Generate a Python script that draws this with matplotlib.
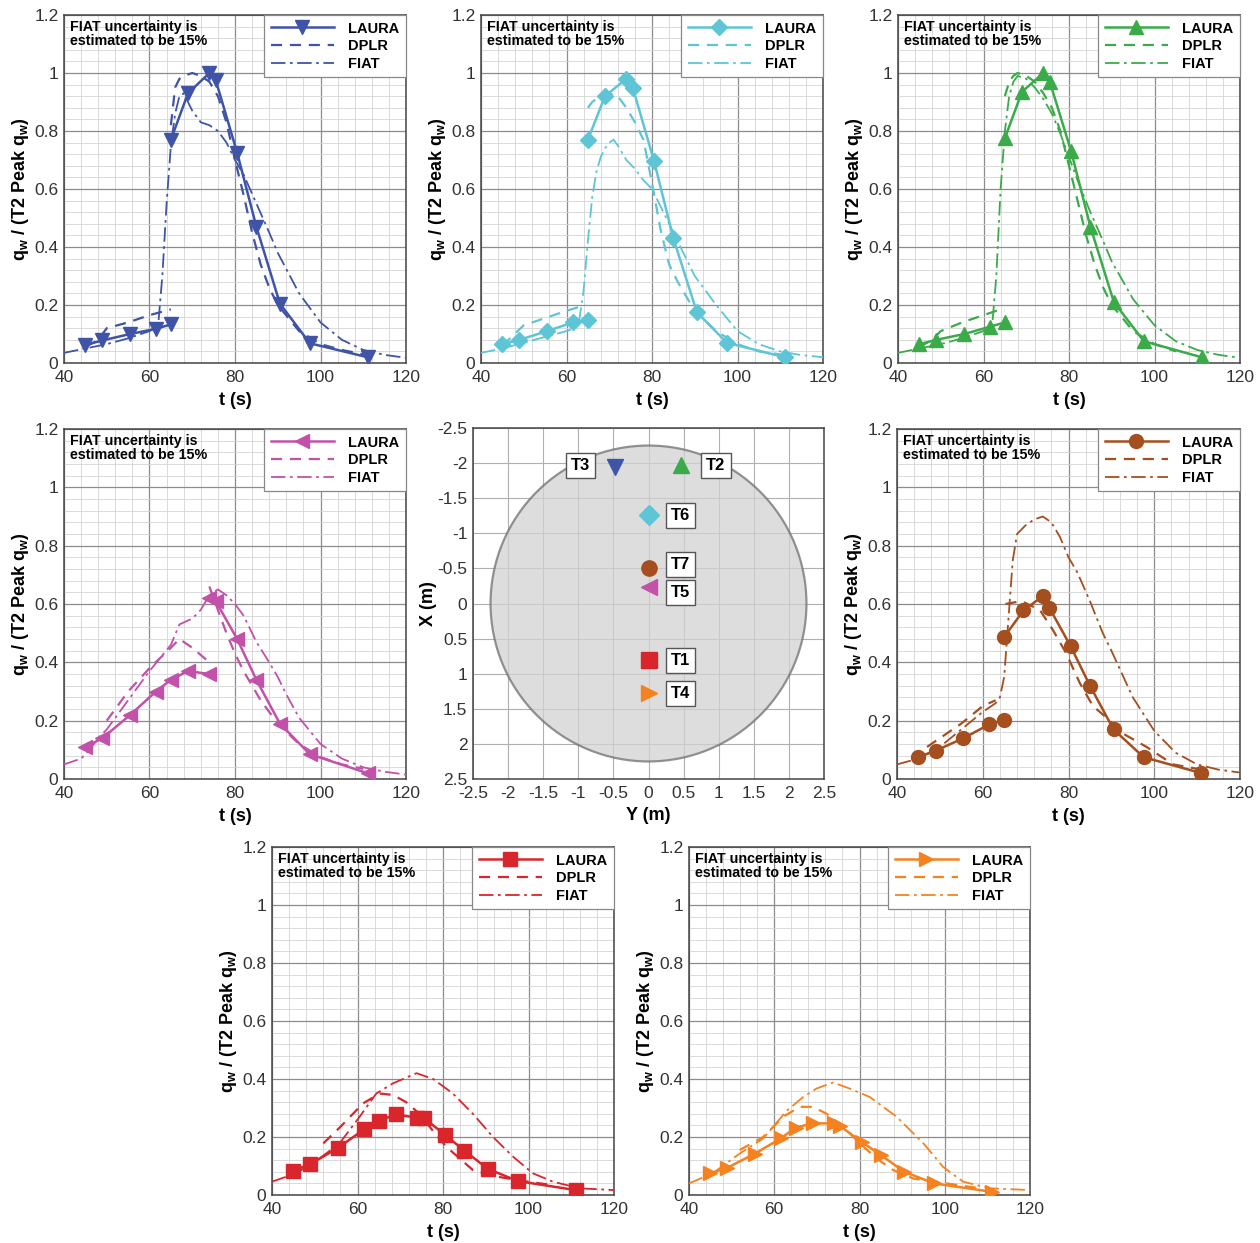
import numpy as np
import matplotlib
matplotlib.use("Agg")
import matplotlib.pyplot as plt
from matplotlib.ticker import MultipleLocator, FormatStrFormatter
from matplotlib.patches import Circle

plt.rcParams['font.family'] = ['Liberation Sans', 'DejaVu Sans']
plt.rcParams['mathtext.fontset'] = 'custom'
plt.rcParams['mathtext.bf'] = 'Liberation Sans:bold'
plt.rcParams['mathtext.rm'] = 'Liberation Sans:bold'
plt.rcParams['mathtext.it'] = 'Liberation Sans:bold'
plt.rcParams['mathtext.default'] = 'bf'

nan = np.nan

# ---- T3 (blue) ----
t3_laura_t = [45, 49, 55.5, 61.5, 65, nan, 65, 69, 74, 75.5, 80.5, 85, 90.5, 97.5, 111]
t3_laura_q = [0.062, 0.078, 0.10, 0.118, 0.133, nan, 0.77, 0.93, 1.0, 0.975, 0.725, 0.47, 0.205, 0.068, 0.02]
t3_dplr_t = [45, 48, 50, 55, 60, 65, nan, 65, 66, 67, 68, 70, 72, 74, 76, 78, 80, 82, 84, 86, 88, 90, 95, 100, 105, 110]
t3_dplr_q = [0.055, 0.08, 0.12, 0.14, 0.165, 0.185, nan, 0.82, 0.95, 0.98, 0.99, 1.0, 0.99, 0.97, 0.92, 0.83, 0.70, 0.58, 0.45,
             0.34, 0.26, 0.20, 0.11, 0.065, 0.045, 0.03]
t3_fiat_t = [40, 45, 50, 55, 60, 62, 63, 64, 65, 66, 67, 68, 70, 72, 74, 76, 78, 80, 82, 85, 88, 90, 95, 100, 105, 110, 115, 120]
t3_fiat_q = [0.035, 0.05, 0.065, 0.085, 0.11, 0.125, 0.3, 0.55, 0.75, 0.86, 0.92, 0.93, 0.87, 0.83, 0.82, 0.80, 0.76, 0.70,
             0.65, 0.55, 0.45, 0.38, 0.24, 0.14, 0.08, 0.045, 0.028, 0.018]

# ---- T6 (cyan) ----
t6_laura_t = [45, 49, 55.5, 61.5, 65, nan, 65, 69, 74, 75.5, 80.5, 85, 90.5, 97.5, 111]
t6_laura_q = [0.065, 0.08, 0.11, 0.14, 0.15, nan, 0.77, 0.92, 0.98, 0.95, 0.695, 0.43, 0.175, 0.07, 0.02]
t6_dplr_t = [45, 50, 55, 60, 64.5, nan, 65, 66, 68, 70, 72, 74, 76, 78, 80, 82, 84, 86, 88, 90, 95, 100, 105, 110]
t6_dplr_q = [0.06, 0.13, 0.155, 0.18, 0.20, nan, 0.88, 0.90, 0.92, 0.93, 0.92, 0.88, 0.83, 0.77, 0.62, 0.46, 0.34, 0.28,
             0.23, 0.18, 0.11, 0.065, 0.04, 0.03]
t6_fiat_t = [40, 45, 50, 55, 60, 62, 63, 64, 65, 66, 67, 68, 69, 70, 71, 72, 74, 76, 78, 80, 82, 85, 88, 90, 95, 100, 105,
             110, 115, 120]
t6_fiat_q = [0.035, 0.05, 0.07, 0.09, 0.11, 0.12, 0.15, 0.25, 0.42, 0.57, 0.66, 0.71, 0.74, 0.76, 0.77, 0.75, 0.70, 0.67,
             0.63, 0.60, 0.54, 0.45, 0.36, 0.30, 0.20, 0.11, 0.065, 0.04, 0.027, 0.02]

# ---- T2 (green) ----
t2_laura_t = [45, 49, 55.5, 61.5, 65, nan, 65, 69, 74, 75.5, 80.5, 85, 90.5, 97.5, 111]
t2_laura_q = [0.065, 0.08, 0.10, 0.125, 0.14, nan, 0.775, 0.935, 1.0, 0.97, 0.73, 0.47, 0.21, 0.075, 0.02]
t2_dplr_t = [45, 48, 50, 55, 60, 63, 65, nan, 65, 66, 67, 68, 70, 72, 74, 76, 78, 80, 82, 84, 86, 88, 90, 95, 100, 105]
t2_dplr_q = [0.055, 0.08, 0.11, 0.14, 0.165, 0.18, 0.18, nan, 0.92, 0.97, 0.99, 1.0, 0.99, 0.97, 0.93, 0.88, 0.80, 0.68,
             0.56, 0.44, 0.34, 0.26, 0.20, 0.11, 0.065, 0.04]
t2_fiat_t = [40, 45, 50, 55, 60, 62, 63, 64, 65, 66, 67, 68, 70, 72, 74, 76, 78, 80, 82, 85, 88, 90, 95, 100, 105, 110, 115, 120]
t2_fiat_q = [0.035, 0.05, 0.065, 0.085, 0.11, 0.125, 0.3, 0.6, 0.8, 0.92, 0.97, 0.99, 0.98, 0.95, 0.91, 0.86, 0.79, 0.71,
             0.63, 0.52, 0.42, 0.35, 0.22, 0.13, 0.075, 0.045, 0.028, 0.018]

# ---- T5 (magenta) ----
t5_laura_t = [45, 49, 55.5, 61.5, 65, 69, 74, nan, 74, 75.5, 80.5, 85, 90.5, 97.5, 111]
t5_laura_q = [0.11, 0.14, 0.22, 0.30, 0.34, 0.37, 0.36, nan, 0.62, 0.61, 0.48, 0.34, 0.19, 0.085, 0.02]
t5_dplr_t = [50, 55, 60, 65, 67, 70, 74, nan, 74, 75, 76, 78, 80, 82, 84, 86, 88, 90, 95, 100, 105, 110]
t5_dplr_q = [0.20, 0.30, 0.38, 0.45, 0.48, 0.45, 0.40, nan, 0.66, 0.62, 0.58, 0.50, 0.43, 0.37, 0.32, 0.27, 0.23, 0.19,
             0.12, 0.075, 0.05, 0.035]
t5_fiat_t = [40, 42, 44, 46, 48, 50, 55, 60, 65, 67, 70, 72, 74, 76, 78, 80, 82, 85, 88, 90, 92, 95, 100, 105, 110, 115, 120]
t5_fiat_q = [0.05, 0.06, 0.07, 0.10, 0.14, 0.17, 0.27, 0.37, 0.46, 0.53, 0.55, 0.58, 0.63, 0.65, 0.63, 0.60, 0.56, 0.47,
             0.40, 0.35, 0.29, 0.21, 0.12, 0.07, 0.04, 0.025, 0.015]

# ---- T7 (brown) ----
t7_laura_t = [45, 49, 55.5, 61.5, 65, nan, 65, 69.5, 74, 75.5, 80.5, 85, 90.5, 97.5, 111]
t7_laura_q = [0.075, 0.097, 0.14, 0.187, 0.203, nan, 0.487, 0.578, 0.627, 0.588, 0.455, 0.32, 0.17, 0.075, 0.02]
t7_dplr_t = [47, 50, 55, 60, 63, nan, 65.3, 69, 73.3, 76.4, 79.5, 82.6, 85.7, 88.9, 92.8, 98.2, 104.4, 110]
t7_dplr_q = [0.11, 0.14, 0.19, 0.25, 0.27, nan, 0.60, 0.61, 0.58, 0.51, 0.43, 0.33, 0.25, 0.21, 0.155, 0.11, 0.05, 0.035]
t7_fiat_t = [40, 45, 50, 55, 60, 63, 64, 65, 66, 67, 68, 70, 72, 74, 76, 78, 80, 82, 85, 88, 90, 95, 100, 105, 110, 115, 120]
t7_fiat_q = [0.05, 0.07, 0.11, 0.17, 0.23, 0.26, 0.28, 0.35, 0.55, 0.75, 0.84, 0.87, 0.89, 0.90, 0.88, 0.83, 0.76, 0.71,
             0.61, 0.50, 0.44, 0.28, 0.165, 0.09, 0.05, 0.032, 0.022]

# ---- T1 (red) ----
t1_laura_t = [45, 49, 55.5, 61.5, 65, 69, 74, 75.5, 80.5, 85, 90.5, 97.5, 111]
t1_laura_q = [0.084, 0.107, 0.163, 0.226, 0.256, 0.278, 0.266, 0.266, 0.207, 0.153, 0.09, 0.048, 0.017]
t1_dplr_t = [52, 56, 61.3, 65.2, 68.3, 71.4, 74.5, 77.7, 80.8, 83.9, 87, 92, 98, 105.7]
t1_dplr_q = [0.178, 0.235, 0.316, 0.35, 0.345, 0.32, 0.28, 0.22, 0.166, 0.126, 0.086, 0.065, 0.05, 0.034]
t1_fiat_t = [40, 45.7, 51.1, 55.8, 60.5, 64.4, 68.3, 73.8, 77.7, 82.3, 87, 91.7, 96.4, 101, 105.7, 112, 120]
t1_fiat_q = [0.046, 0.075, 0.126, 0.178, 0.27, 0.35, 0.385, 0.42, 0.40, 0.35, 0.28, 0.20, 0.132, 0.075, 0.046, 0.023, 0.017]

# ---- T4 (orange) ----
t4_laura_t = [45, 49, 55.5, 61.5, 65, 69, 74, 75.5, 80.5, 85, 90.5, 97.5, 111]
t4_laura_q = [0.075, 0.094, 0.143, 0.195, 0.232, 0.247, 0.247, 0.237, 0.183, 0.138, 0.08, 0.04, 0.011]
t4_dplr_t = [51.9, 57.4, 62.1, 66, 69.1, 72.3, 76.2, 80.1, 84, 87.9, 92.6, 100.4, 108.3]
t4_dplr_q = [0.155, 0.20, 0.27, 0.304, 0.304, 0.28, 0.235, 0.178, 0.126, 0.086, 0.057, 0.04, 0.023]
t4_fiat_t = [40, 45.6, 51.9, 57.4, 62.9, 66.8, 69.9, 73.8, 77.7, 82.4, 88.7, 95, 99.6, 104.3, 110.6, 120]
t4_fiat_q = [0.04, 0.075, 0.143, 0.195, 0.29, 0.338, 0.367, 0.388, 0.367, 0.338, 0.27, 0.178, 0.097, 0.046, 0.023, 0.017]

# ---- sensor locations (Y, X) in metres ----
probe_names = ['T3', 'T2', 'T6', 'T7', 'T5', 'T1', 'T4']
probe_y = [-0.48, 0.47, 0.0, 0.0, 0.0, 0.0, 0.0]
probe_x = [-1.95, -1.98, -1.26, -0.5, -0.23, 0.81, 1.27]
label_y = [-0.97, 0.96, 0.46, 0.46, 0.46, 0.46, 0.46]
label_x = [-1.96, -1.96, -1.25, -0.56, -0.16, 0.81, 1.28]
heatshield_r = 2.25

colors = {'T3': '#3f54a6', 'T6': '#5ec5d6', 'T2': '#3bab4a', 'T5': '#c251a9',
          'T7': '#a54e1e', 'T1': '#d8262c', 'T4': '#f5821f'}
markers = {'T3': 'v', 'T6': 'D', 'T2': '^', 'T5': '<', 'T7': 'o', 'T1': 's', 'T4': '>'}

W, H = 1260, 1243
fig = plt.figure(figsize=(W / 100, H / 100), dpi=100)


def add_ax(x0, y0, x1, y1):
    return fig.add_axes([x0 / W, 1 - y1 / H, (x1 - x0) / W, (y1 - y0) / H])


def heat_panel(ax, name, laura, dplr, fiat):
    c = colors[name]
    ms = 10 if markers[name] in ('o', 's') else 9.5
    if markers[name] == 'D':
        ms = 8.5
    ax.plot(laura[0], laura[1], '-', color=c, lw=1.8, marker=markers[name], ms=ms, label='LAURA', zorder=4)
    ax.plot(dplr[0], dplr[1], color=c, lw=1.6, dashes=(5, 3.5), label='DPLR', zorder=3)
    ax.plot(fiat[0], fiat[1], color=c, lw=1.3, dashes=(8, 2.5, 1.5, 2.5), label='FIAT', zorder=3)
    ax.set_xlim(40, 120)
    ax.set_ylim(0, 1.2)
    ax.xaxis.set_major_locator(MultipleLocator(20))
    ax.xaxis.set_minor_locator(MultipleLocator(4))
    ax.yaxis.set_major_locator(MultipleLocator(0.2))
    ax.yaxis.set_minor_locator(MultipleLocator(0.04))
    ax.yaxis.set_major_formatter(FormatStrFormatter('%g'))
    ax.grid(which='major', color='#8c8c8c', lw=0.9)
    ax.grid(which='minor', color='#d4d4d4', lw=0.6)
    ax.set_axisbelow(True)
    ax.tick_params(which='both', length=0, labelsize=12.5, labelcolor='#333333')
    ax.tick_params(axis='x', pad=5)
    ax.tick_params(axis='y', pad=4)
    for s in ax.spines.values():
        s.set_color('#444444')
        s.set_linewidth(1.1)
    ax.set_xlabel('t (s)', fontsize=13, fontweight='bold', labelpad=5)
    ax.set_ylabel('q$_w$ / (T2 Peak q$_w$)', fontsize=13, fontweight='bold', labelpad=2)
    ax.text(0.018, 0.985, 'FIAT uncertainty is\nestimated to be 15%', transform=ax.transAxes,
            ha='left', va='top', fontsize=10.3, fontweight='bold', linespacing=0.95, zorder=6)
    leg = ax.legend(loc='upper right', borderaxespad=0, fancybox=False, numpoints=1,
                    handlelength=4.3, handletextpad=1.0, borderpad=0.45, labelspacing=0.25,
                    prop={'weight': 'bold', 'size': 10.5}, framealpha=1)
    leg.get_frame().set_edgecolor('#888888')
    leg.get_frame().set_linewidth(0.9)


heat_panel(add_ax(64, 15, 406, 363), 'T3', (t3_laura_t, t3_laura_q), (t3_dplr_t, t3_dplr_q), (t3_fiat_t, t3_fiat_q))
heat_panel(add_ax(481, 15, 823, 363), 'T6', (t6_laura_t, t6_laura_q), (t6_dplr_t, t6_dplr_q), (t6_fiat_t, t6_fiat_q))
heat_panel(add_ax(898, 15, 1240, 363), 'T2', (t2_laura_t, t2_laura_q), (t2_dplr_t, t2_dplr_q), (t2_fiat_t, t2_fiat_q))
heat_panel(add_ax(64, 429, 406, 779), 'T5', (t5_laura_t, t5_laura_q), (t5_dplr_t, t5_dplr_q), (t5_fiat_t, t5_fiat_q))
heat_panel(add_ax(897, 429, 1240, 779), 'T7', (t7_laura_t, t7_laura_q), (t7_dplr_t, t7_dplr_q), (t7_fiat_t, t7_fiat_q))
heat_panel(add_ax(272, 847, 614, 1195), 'T1', (t1_laura_t, t1_laura_q), (t1_dplr_t, t1_dplr_q), (t1_fiat_t, t1_fiat_q))
heat_panel(add_ax(689, 847, 1030, 1195), 'T4', (t4_laura_t, t4_laura_q), (t4_dplr_t, t4_dplr_q), (t4_fiat_t, t4_fiat_q))

# ---- sensor map ----
ax = add_ax(473, 428, 824, 779)
ax.add_patch(Circle((0, 0), heatshield_r, facecolor='#d2d2d2', alpha=0.75, edgecolor='#707070', lw=1.6, zorder=1))
ax.set_xlim(-2.5, 2.5)
ax.set_ylim(2.5, -2.5)
ax.xaxis.set_major_locator(MultipleLocator(0.5))
ax.yaxis.set_major_locator(MultipleLocator(0.5))
ax.xaxis.set_major_formatter(FormatStrFormatter('%g'))
ax.yaxis.set_major_formatter(FormatStrFormatter('%g'))
ax.grid(color='#b0b0b0', lw=0.8, zorder=0)
ax.set_axisbelow(True)
ax.tick_params(length=0, labelsize=12.5, labelcolor='#333333')
ax.tick_params(axis='x', pad=5)
ax.tick_params(axis='y', pad=4)
for s in ax.spines.values():
    s.set_color('#444444')
    s.set_linewidth(1.1)
ax.set_xlabel('Y (m)', fontsize=13, fontweight='bold', labelpad=4)
ax.set_ylabel('X (m)', fontsize=13, fontweight='bold', labelpad=0)
for n, py, px, ly, lx in zip(probe_names, probe_y, probe_x, label_y, label_x):
    m = markers[n]
    ms = 11 if m in ('o', 's') else 12
    if m == 'D':
        ms = 10
    ax.plot(py, px, marker=m, color=colors[n], ms=ms, ls='none', zorder=4)
    ax.text(ly, lx, n, ha='center', va='center', fontsize=12, fontweight='bold', zorder=5,
            bbox=dict(boxstyle='square,pad=0.3', facecolor='white', edgecolor='#555555', lw=1.0))

fig.savefig('out.png', dpi=100)
